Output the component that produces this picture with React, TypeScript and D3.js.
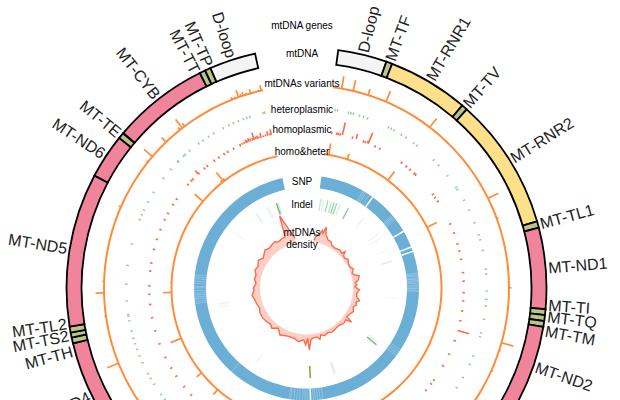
import React from 'react';
import * as d3 from 'd3';

// mitochondrial genome, drawn as positions in bp
const genomeLength = 16569;

const geneNames = ['D-loop', 'MT-TF', 'MT-RNR1', 'MT-TV', 'MT-RNR2', 'MT-TL1', 'MT-ND1', 'MT-TI', 'MT-TQ', 'MT-TM', 'MT-ND2', 'MT-TW', 'MT-TA', 'MT-TN', 'MT-TC', 'MT-TY', 'MT-CO1', 'MT-TS1', 'MT-TD', 'MT-CO2', 'MT-TK', 'MT-ATP8', 'MT-ATP6', 'MT-CO3', 'MT-TG', 'MT-ND3', 'MT-TR', 'MT-ND4L', 'MT-ND4', 'MT-TH', 'MT-TS2', 'MT-TL2', 'MT-ND5', 'MT-ND6', 'MT-TE', 'MT-CYB', 'MT-TT', 'MT-TP', 'D-loop'];
const geneStarts = [0, 577, 648, 1602, 1671, 3230, 3307, 4263, 4332, 4402, 4470, 5512, 5587, 5657, 5761, 5826, 5904, 7446, 7518, 7586, 8295, 8366, 8527, 9207, 9991, 10059, 10405, 10470, 10760, 12138, 12207, 12266, 12337, 14149, 14674, 14747, 15888, 15956, 16024];
const geneEnds = [576, 647, 1601, 1670, 3229, 3304, 4262, 4331, 4400, 4469, 5511, 5579, 5655, 5729, 5826, 5891, 7445, 7514, 7585, 8269, 8364, 8572, 9207, 9990, 10058, 10404, 10469, 10766, 12137, 12206, 12265, 12336, 14148, 14673, 14742, 15887, 15953, 16023, 16569];
const geneTypes = ['d', 't', 'r', 't', 'r', 't', 'p', 't', 't', 't', 'p', 't', 't', 't', 't', 't', 'p', 't', 't', 'p', 't', 'p', 'p', 'p', 't', 'p', 't', 'p', 'p', 't', 't', 't', 'p', 'p', 't', 'p', 't', 't', 'd'];

const variantPos = [117, 278, 492, 755, 1457, 2734, 3036, 4015, 4780, 4890, 5190, 10408, 10887, 11724, 12395, 12719, 12880, 13747, 13937, 14663, 14760, 15033, 15290, 15330, 15370, 16040, 16124, 16170, 16217, 16250, 16285, 16330, 16392, 16440, 16500, 16543];
const variantVal = [100, 89, 49, 92, 90, 92, 16, 20, 98, 12, 14, 55, 55, 96, 12, 68, 14, 10, 18, 15, 89, 50, 25, 88, 30, 8, 20, 14, 60, 18, 30, 15, 35, 10, 10, 44];

const heteroPos = [75, 112, 287, 325, 366, 464, 527, 594, 945, 994, 1043, 1179, 1262, 1408, 1471, 1813, 1925, 2139, 2363, 2400, 2597, 2768, 2982, 3182, 3260, 3431, 3723, 3800, 4064, 4190, 4293, 4503, 4718, 4780, 5097, 5238, 5468, 5653, 5911, 10925, 11023, 11213, 11320, 11403, 11593, 11710, 11817, 11909, 11997, 12114, 12275, 12349, 12377, 12587, 12845, 13138, 13479, 13873, 13952, 14034, 14176, 14346, 14614, 14795, 14951, 14965, 15077, 15110, 15204, 15384, 15462, 15569, 15662, 15832, 15930, 16008, 16090, 16173, 16230, 16280, 16495, 16520];

const homoPos = [78, 171, 200, 235, 458, 663, 700, 887, 984, 1443, 1550, 1637, 1740, 1770, 2237, 2305, 2388, 2846, 3021, 3221, 3353, 3504, 3742, 3894, 4098, 4245, 4425, 4600, 4970, 5228, 5463, 5764, 5848, 5994, 10700, 10891, 11125, 11296, 11510, 11773, 12016, 12255, 12494, 12675, 12826, 13089, 13235, 13479, 13664, 13849, 14039, 14166, 14346, 14463, 14790, 14882, 14921, 15067, 15200, 15267, 15423, 15521, 15633, 15710, 15827, 15959];
const homoBarPos = [273, 526, 741, 755, 4780, 15053, 15959, 16000, 16040, 16076, 16100, 16130, 16160, 16200, 16227, 16260, 16290, 16320, 16358, 16400, 16440, 16480, 16520, 16543];
const homoBarVal = [100, 40, 20, 90, 92, 38, 8, 14, 15, 25, 18, 30, 22, 20, 58, 20, 25, 15, 38, 12, 15, 35, 15, 45];

const bothPos = [93, 487, 1438, 2714, 4892, 5204, 10408, 10887, 11720, 12400, 12695, 12900, 13900, 14735, 15290, 15325, 15360];
const bothVal = [100, 50, 95, 95, 12, 12, 55, 55, 100, 12, 75, 10, 10, 95, 22, 100, 25];

const snpGaps = [1389, 2539, 2973, 3090, 8300];
const snpLight = [1100, 1140, 1190, 1280, 2060, 2095, 2130, 2180, 3640, 3680, 3710, 3760, 3790, 3830, 3860, 3900, 3950, 3990, 4030, 4070, 4100, 5640, 5700, 5760, 5820, 7990, 8060, 8120, 8180, 8230, 8380, 8440, 8500, 8580, 8650, 8720, 8800, 8840, 10440, 12400, 12450, 12510, 12560, 12610, 12660, 12720, 12790, 12830, 12900, 12960, 13020, 13070, 13120];

const indelPos = [78, 166, 302, 419, 507, 590, 702, 980, 1545, 2212, 2350, 2778, 3163, 4337, 5820, 5916, 7496, 7540, 10045, 12180, 12280, 14638, 15500, 15525, 15885, 15940, 16217, 16270];
const indelVal = [0.3, 0.2, 0.45, 0.35, 0.55, 0.5, 0.2, 0.65, 0.12, 0.1, 0.1, 0.05, 0.2, 0.06, 0.15, 0.85, 0.2, 0.12, 0.1, 0.08, 0.12, 0.08, 0.1, 0.1, 0.12, 0.12, 0.85, 0.25];
const indelMixedPos = [8284];

const densityPos = [63, 141, 307, 380, 443, 507, 604, 819, 975, 1140, 1369, 1647, 1842, 1905, 2017, 2178, 2334, 2553, 2748, 2943, 3138, 3284, 3382, 3577, 3723, 3850, 3942, 4113, 4308, 4493, 4673, 4795, 4927, 5088, 5321, 5526, 5745, 5828, 5916, 6125, 6403, 6715, 6939, 7134, 7378, 7573, 7685, 7816, 8026, 8157, 8274, 8333, 8440, 8547, 8825, 9034, 9312, 9522, 9834, 10107, 10253, 10389, 10594, 10823, 11081, 11393, 11666, 11919, 12148, 12397, 12680, 12787, 13045, 13274, 13469, 13727, 13956, 14249, 14468, 14638, 14858, 15077, 15272, 15506, 15647, 15857, 16066, 16178, 16538];
const densityVal = [2, 6, 10, 13, 10.5, 17.5, 10.5, 6, 6, 3, 2.5, 4, 3, 6.5, 2.5, 2, 4, 2, 2, 4, 1.5, 3.5, 7.5, 6, 2.5, 4, 2, 6.5, 4, 4.5, 8, 5, 6.5, 4, 6, 4, 3, 10, 4, 5, 3, 3.7, 4.5, 3, 4.5, 2.5, 6.5, 3.5, 4, 5, 15.5, 3.8, 10.5, 5.5, 7.8, 5.5, 5, 5.5, 7.5, 2.7, 4.5, 6.7, 4.5, 5.7, 6.5, 6.4, 4.5, 5.8, 6.4, 8.5, 6, 6.7, 4.2, 6.5, 5.5, 8, 6.5, 9.2, 6, 7.5, 9.8, 8, 8.8, 9.5, 7.5, 8.5, 9, 30.5, 4.5];

const trackLabels = ['mtDNA genes', 'mtDNA', 'mtDNAs variants', 'heteroplasmic', 'homoplasmic', 'homo&heter', 'SNP', 'Indel'];
const trackLabelY = [26.5, 54.5, 84.5, 110.5, 130.5, 152.5, 182.5, 205.5];

const cx = 306.5;
const cy = 288;
const fontFamily = 'Arial, "Liberation Sans", sans-serif';

const geneFill: Record<string, string> = { d: '#f4f4f4', t: '#bcc582', r: '#fde08a', p: '#f0849b' };
// labels that the layout pushed away from their gene, in degrees
const labelShift: Record<string, number> = {
  'MT-TI': -1.7, 'MT-TQ': -0.4, 'MT-TM': 1.6, 'MT-ND2': -1,
  'MT-TH': -2.5, 'MT-TS2': 0, 'MT-TL2': 1.5, 'MT-ND4': 1,
  'MT-TT': -1.5, 'MT-TP': 0.5,
};

const angle = d3.scaleLinear().domain([0, genomeLength]).range([(7.6 * Math.PI) / 180, (347.6 * Math.PI) / 180]);

const rVariant = d3.scaleLinear().domain([0, 100]).range([202.5, 215]);
const rHomo = d3.scaleLinear().domain([0, 100]).range([157, 170]);
const rBoth = d3.scaleLinear().domain([0, 100]).range([135, 146.5]);
const rDensity = d3.scaleLinear().domain([0, 30]).range([46.5, 76.5]);

const arc = d3.arc<{ a0: number; a1: number; r0: number; r1: number }>()
  .startAngle((d) => d.a0)
  .endAngle((d) => d.a1)
  .innerRadius((d) => d.r0)
  .outerRadius((d) => d.r1);

const span = (r0: number, r1: number, p0 = 0, p1 = genomeLength) =>
  arc({ a0: angle(p0), a1: angle(p1), r0, r1 }) as string;

// radial tick between two radii at a genome position
const spoke = (pos: number, r0: number, r1: number) => {
  const a = angle(pos) - Math.PI / 2;
  return {
    x1: Math.cos(a) * r0,
    y1: Math.sin(a) * r0,
    x2: Math.cos(a) * r1,
    y2: Math.sin(a) * r1,
  };
};

const BarTrack: React.FC<{ pos: number[]; val: number[]; r: d3.ScaleLinear<number, number>; color: string }> = ({ pos, val, r, color }) => (
  <g stroke={color} fill="none">
    <path
      strokeWidth={2}
      d={d3.lineRadial<number>().angle((d) => angle(d)).radius(r(0))(d3.range(0, genomeLength + 1, 100).concat(genomeLength)) as string}
    />
    {pos.map((p, i) => (
      <line key={i} strokeWidth={1.7} {...spoke(p, r(0), r(val[i]))} />
    ))}
  </g>
);

export default function App() {
  const densityPoints = densityPos.map((p, i) => [p, densityVal[i]] as [number, number]);
  const densityLine = d3.lineRadial<[number, number]>().angle((d) => angle(d[0])).radius((d) => rDensity(d[1]));
  const densityArea = d3.areaRadial<[number, number]>()
    .angle((d) => angle(d[0]))
    .innerRadius(rDensity(0))
    .outerRadius((d) => rDensity(d[1]));

  return (
    <svg width={620} height={400} style={{ position: 'absolute', left: 0, top: 0, display: 'block' }} fontFamily={fontFamily}>
      <g transform={`translate(${cx},${cy})`}>
        {/* gene ring */}
        {geneNames.map((name, i) => (
          <path key={i} d={span(225, 240, geneStarts[i], geneEnds[i] + 1)} fill={geneFill[geneTypes[i]]} stroke="#000" strokeWidth={1.8} />
        ))}
        {geneNames.map((name, i) => {
          const mid = (((angle((geneStarts[i] + geneEnds[i]) / 2) * 180) / Math.PI) + (labelShift[name] || 0));
          const left = mid > 180;
          return (
            <text
              key={i}
              transform={`rotate(${mid - 90}) translate(242.5,0)${left ? ' rotate(180)' : ''}`}
              textAnchor={left ? 'end' : 'start'}
              dy="0.35em"
              fontSize={16}
              fill="#222"
            >
              {name}
            </text>
          );
        })}

        {/* variants */}
        <BarTrack pos={variantPos} val={variantVal} r={rVariant} color="#fd8d3c" />

        {/* heteroplasmic */}
        <g stroke="#8ad08f" strokeWidth={1.4}>
          {heteroPos.map((p, i) => (
            <line key={i} {...spoke(p, 179, 181.5)} />
          ))}
        </g>

        {/* homoplasmic */}
        <g stroke="#fb6a4a" strokeWidth={1.6}>
          {homoPos.map((p, i) => (
            <line key={i} {...spoke(p, 156, 158.5)} />
          ))}
          {homoBarPos.map((p, i) => (
            <line key={i} {...spoke(p, rHomo(0), rHomo(homoBarVal[i]))} />
          ))}
        </g>

        {/* homo & heter */}
        <BarTrack pos={bothPos} val={bothVal} r={rBoth} color="#fd8d3c" />

        {/* SNP ring */}
        <path d={span(100.5, 112.5)} fill="#6baed6" />
        <g stroke="#fff">
          {snpLight.map((p, i) => (
            <line key={i} {...spoke(p, 100.5, 112.5)} strokeOpacity={0.25} strokeWidth={1} />
          ))}
          {snpGaps.map((p, i) => (
            <line key={i} {...spoke(p, 100.5, 112.5)} strokeWidth={1.5} />
          ))}
        </g>

        {/* indel */}
        <g stroke="#41ab5d" strokeWidth={1.3}>
          {indelPos.map((p, i) => (
            <line key={i} {...spoke(p, 78, 90)} strokeOpacity={indelVal[i]} />
          ))}
          {indelMixedPos.map((p, i) => (
            <line key={i} {...spoke(p, 78, 90)} stroke="#a89b3a" strokeWidth={1.6} />
          ))}
        </g>

        {/* density */}
        <path d={densityArea(densityPoints) as string} fill="#fdcfc7" />
        <path d={densityLine(densityPoints) as string} fill="none" stroke="#fb6a4a" strokeWidth={1.4} />
      </g>

      {trackLabels.map((t, i) => (
        <text key={t} x={302} y={trackLabelY[i]} textAnchor="middle" dominantBaseline="middle" fontSize={10} fill="#000">
          {t}
        </text>
      ))}
      <text x={302} y={233} textAnchor="middle" dominantBaseline="middle" fontSize={10} fill="#000">mtDNAs</text>
      <text x={302} y={245} textAnchor="middle" dominantBaseline="middle" fontSize={10} fill="#000">density</text>
    </svg>
  );
}
